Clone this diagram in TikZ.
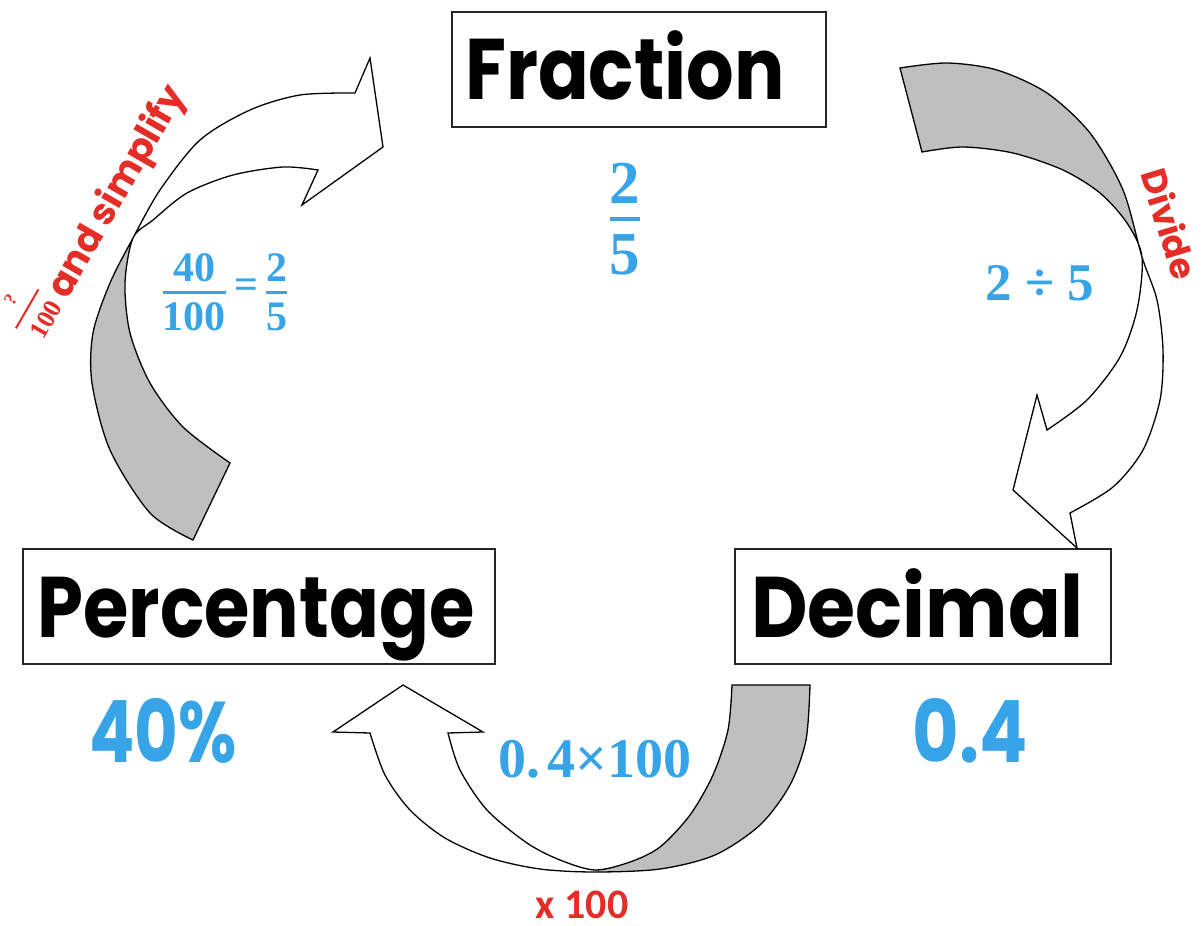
\documentclass[tikz,border=0pt]{standalone}
\usepackage{fontspec}
\usepackage{amsmath}
\usepackage{graphicx}
\newfontfamily\popfont{Poppins}
\newfontfamily\numfont{Liberation Serif}
\newfontfamily\calfont{Carlito}
\definecolor{myblue}{RGB}{56,164,232}
\definecolor{myred}{RGB}{228,45,38}
\definecolor{mygrey}{RGB}{191,191,191}
\newcommand\qfracmark{\vbox{\hbox to 45pt{\hss\numfont\fontsize{18}{18}\selectfont ?\hss}\kern12pt\hrule height 2pt\kern12pt\hbox to 45pt{\hss\numfont\bfseries\fontsize{26}{26}\selectfont 100\hss}}}
\tikzset{
  box/.style={draw=black!85, line width=1.6pt, inner sep=0pt, minimum height=115pt},
  title/.style={font=\popfont\bfseries\fontsize{86}{90}\selectfont, inner sep=0pt, anchor=base, text=black},
  bignum/.style={font=\popfont\bfseries\fontsize{86}{90}\selectfont, text=myblue, inner sep=0pt, anchor=base},
  calcnum/.style={text=myblue, inner sep=0pt, anchor=base},
  redlab/.style={text=myred, inner sep=0pt},
  arr/.style={draw=black, line width=1.3pt, line join=miter},
}
\begin{document}
\begin{tikzpicture}[x=1pt,y=-1pt]
\useasboundingbox[fill=white] (0,0) rectangle (1203,926);

% boxes and titles
\node[box, minimum width=374pt] (fracbox) at (639,69.5) {};
\node[box, minimum width=472pt] (pctbox) at (259,606.5) {};
\node[box, minimum width=376pt] (decbox) at (923,606.5) {};
\node[title] (fractxt) at (625,99) {\scalebox{0.87}[1]{Fraction}};
\node[title] (pcttxt) at (256,637) {\scalebox{0.855}[1]{Percentage}};
\node[title] (dectxt) at (917.5,637) {\scalebox{0.905}[1]{Decimal}};

% left arrow: percentage -> fraction
\path[save path=\leftarr] plot[smooth] coordinates {(193,540) (150,513) (110,450) (92,383) (93,333) (110,283) (133,238) (160,190) (200,140) (250,110) (300,95) (355,93)} -- (370,58) -- (383,147) -- (302,205) -- plot[smooth] coordinates {(318,170) (283,167) (233,175) (187,193) (153,220) (133,238) (125,283) (130,333) (150,383) (183,427) (230,463)} -- cycle;
\fill[white, use path=\leftarr];
\begin{scope}
\clip (0,238) rectangle (420,600);
\fill[mygrey, use path=\leftarr];
\end{scope}
\draw[arr, use path=\leftarr];

% right arrow: fraction -> decimal
\path[save path=\rightarr] plot[smooth] coordinates {(900,68) (947,63) (997,70) (1047,93) (1090,133) (1123,190) (1142,257) (1157,300) (1163,350) (1160,400) (1143,450) (1113,487) (1070,513)} -- (1077,548) -- (1013,490) -- (1037,395) -- plot[smooth] coordinates {(1047,430) (1087,400) (1120,357) (1137,310) (1142,257) (1127,223) (1100,193) (1063,170) (1013,153) (963,147) (922,152)} -- cycle;
\fill[white, use path=\rightarr];
\begin{scope}
\clip (850,0) rectangle (1203,257);
\fill[mygrey, use path=\rightarr];
\end{scope}
\draw[arr, use path=\rightarr];

% bottom arrow: decimal -> percentage
\path[save path=\bottomarr] plot[smooth] coordinates {(810,685) (806,740) (790,785) (760,825) (715,855) (660,869) (595,872) (540,869) (490,858) (445,838) (410,810) (385,775) (370,733)} -- (333,732) -- (403,685) -- (483,732) -- plot[smooth] coordinates {(448,733) (460,770) (487,810) (527,843) (560,860) (595,870) (630,862) (660,847) (690,815) (713,775) (728,730) (732,685)} -- cycle;
\fill[white, use path=\bottomarr];
\begin{scope}
\clip (595,650) rectangle (850,926);
\fill[mygrey, use path=\bottomarr];
\end{scope}
\draw[arr, use path=\bottomarr];

% blue values
\node[calcnum, font=\numfont\bfseries\fontsize{61}{61}\selectfont] (fracval) at (625,225) {$\genfrac{}{}{4.5pt}{0}{\mbox{2}}{\mbox{5}}$};
\node[calcnum, font=\numfont\bfseries\fontsize{42}{42}\selectfont] (simpcalc) at (225,298.5) {$\genfrac{}{}{3pt}{0}{\mbox{40}}{\mbox{100}}\mathrel{\mbox{=}}\genfrac{}{}{3pt}{0}{\mbox{2}}{\mbox{5}}$};
\node[calcnum, font=\numfont\bfseries\fontsize{53}{53}\selectfont] (divcalc) at (1040,300) {2 ÷ 5};
\node[calcnum, font=\numfont\bfseries\fontsize{56}{56}\selectfont] (mulcalc) at (595,777) {0.\hspace{0.12em}4×100};
\node[bignum] (pctval) at (163,762) {\scalebox{0.78}[1]{40\%}};
\node[bignum] (decval) at (970,762) {\scalebox{0.83}[1]{0.4}};

% red labels
\node[redlab, anchor=base, rotate=60, font=\popfont\bfseries\fontsize{37}{40}\selectfont] (simplab) at (114,219) {\qfracmark\hspace{5pt}and simplify};
\node[redlab, rotate=-73, font=\popfont\bfseries\fontsize{35}{37}\selectfont] (divlab) at (1170,224) {Divide};
\node[redlab, anchor=base, font=\calfont\bfseries\fontsize{42}{44}\selectfont] (xlab) at (582,918) {x 100};
\end{tikzpicture}
\end{document}
